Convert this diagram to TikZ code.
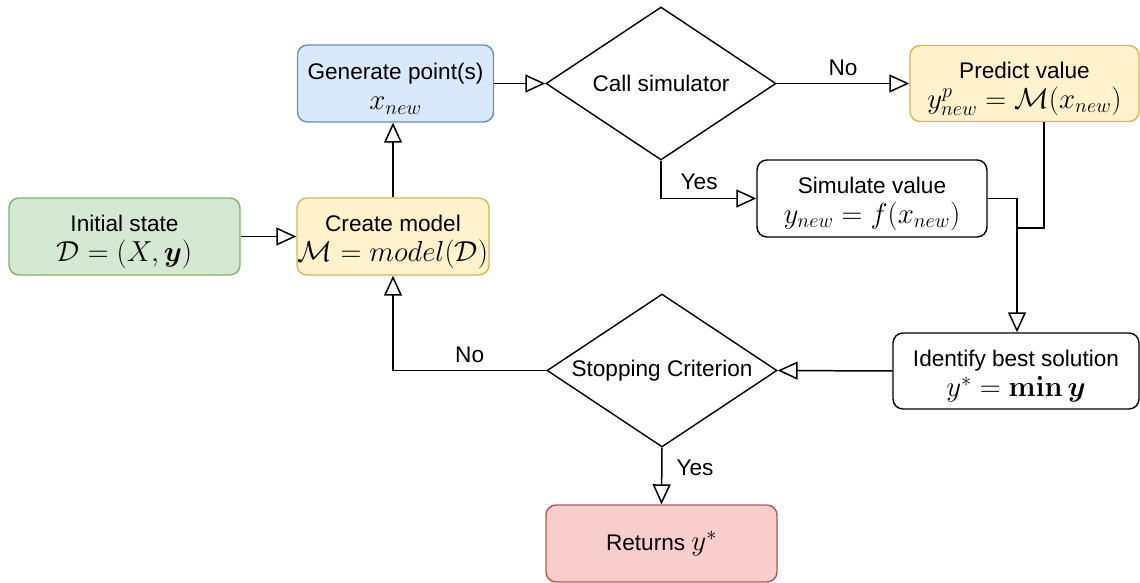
\RequirePackage{fix-cm}
\documentclass[tikz,border=0pt]{standalone}
\usepackage{amsmath}
\usepackage[no-math]{fontspec}
\setmainfont{Liberation Sans}
\usetikzlibrary{arrows.meta,shapes.geometric}

\definecolor{bluefill}{HTML}{DAE8FC}
\definecolor{blueline}{HTML}{6C8EBF}
\definecolor{greenfill}{HTML}{D5E8D4}
\definecolor{greenline}{HTML}{82B366}
\definecolor{yellowfill}{HTML}{FFF2CC}
\definecolor{yellowline}{HTML}{D6B656}
\definecolor{redfill}{HTML}{F8CECC}
\definecolor{redline}{HTML}{B85450}

% formulas are set a little larger than the surrounding text
\newcommand{\fml}[1]{{\fontsize{28.9}{29}\selectfont$#1$}}
% tall strut on a heading line, centring the two-line block in its box
\newcommand{\topstrut}{\rule{0pt}{27pt}}

\begin{document}
\begin{tikzpicture}[x=1pt,y=-1pt,
  every node/.style={font=\fontsize{22.6}{30}\selectfont},
  box/.style={draw, rounded corners=10pt, line width=1.4pt, align=center,
              inner sep=0pt, minimum height=77pt},
  decision/.style={draw, diamond, line width=1.4pt, inner sep=0pt,
              minimum width=230pt, minimum height=153pt},
  flow/.style={draw, line width=1.5pt,
              -{Triangle[open, length=20pt, width=18pt, line width=1.5pt]}},
  lbl/.style={inner sep=0pt}
]
\useasboundingbox (0,0) rectangle (1140,583);

% process boxes
\node[box, fill=bluefill, draw=blueline, minimum width=196pt]
  (gen) at (395.5,83.5) {\topstrut Generate point(s)\\\fml{x_{new}}};
\node[box, fill=yellowfill, draw=yellowline, minimum width=229pt, minimum height=76pt]
  (pred) at (1024.5,83.5) {\topstrut Predict value\\\fml{y^p_{new}=\mathcal{M}(x_{new})}};
\node[box, minimum width=230pt]
  (sim) at (872,198.5) {\topstrut Simulate value\\\fml{y_{new}=f(x_{new})}};
\node[box, fill=greenfill, draw=greenline, minimum width=231pt]
  (init) at (124.5,236.5) {\topstrut Initial state\\\fml{\mathcal{D}=(X,\boldsymbol{y})}};
\node[box, fill=yellowfill, draw=yellowline, minimum width=192pt]
  (model) at (393,236.5) {\topstrut Create model\\\fml{\mathcal{M}=model(\mathcal{D})}};
\node[box, minimum width=246pt, minimum height=76pt]
  (best) at (1016,371) {\topstrut Identify best solution\\\fml{y^{*}=\mathbf{min}\,\boldsymbol{y}}};
\node[box, fill=redfill, draw=redline, minimum width=231pt]
  (ret) at (661.5,543.5) {Returns \fml{y^{*}}};

% decisions
\node[decision] (call) at (661,83.5) {};
\node at (call) {Call simulator};
\node[decision] (stop) at (662,370.5) {};
\node at (stop) {Stopping Criterion};

% junction points of the merging paths
\coordinate (predturn) at (1044,228);
\coordinate (merge) at (1017,228);

% connectors
\draw[flow] (init) -- (model);
\draw[flow] (model.north) -- (model.north |- gen.south);
\draw[flow] (gen) -- (call.west |- gen.east);
\draw[flow] (call.east) -- (pred.west |- call.east)
  node[lbl, midway, above=7pt] {No};
\draw[flow] (call.south) |- (sim.west)
  node[lbl, pos=0.7, above=8pt] {Yes};
\draw[line width=1.5pt] (predturn |- pred.south) -- (predturn) -- (merge);
\draw[flow] (sim.east) -| (merge |- best.north);
\draw[flow] (best.west) -- (stop.east);
\draw[flow] (stop.west) -| (model.south)
  node[lbl, pos=0.25, above=7pt] {No};
\draw[flow] (stop.south) -- (ret.north)
  node[lbl, pos=0.35, right=14pt] {Yes};
\end{tikzpicture}
\end{document}
